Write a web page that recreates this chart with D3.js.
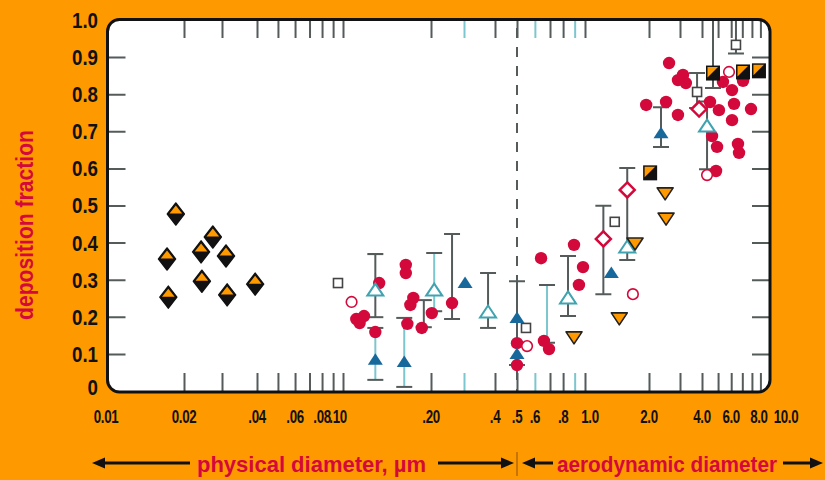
<!DOCTYPE html>
<html><head><meta charset="utf-8">
<script src="https://cdn.jsdelivr.net/npm/d3@7"></script>
<style>html,body{margin:0;padding:0;background:#ff9900;}svg{display:block}</style>
</head><body><svg id="c" width="825" height="480"></svg>
<script>
// ---------------- DATA ----------------
// [diameter (µm), deposition fraction]
const ultrafineDiamonds = [[0.0172,0.356],[0.0174,0.253],[0.0186,0.477],[0.0240,0.375],[0.0242,0.296],
  [0.0272,0.415],[0.0310,0.364],[0.0313,0.259],[0.0394,0.288]];
const redFilled = [[0.111,0.194],[0.114,0.183],[0.118,0.202],[0.133,0.291],[0.129,0.159],[0.164,0.340],
  [0.164,0.318],[0.174,0.251],[0.170,0.232],[0.166,0.181],[0.202,0.210],[0.186,0.170],[0.259,0.237],
  [0.5,0.129],[0.5,0.070],[0.639,0.358],[0.658,0.135],[0.693,0.113],[0.894,0.394],[0.980,0.334],[0.940,0.286],
  [2.60,0.884],[2.92,0.838],[3.12,0.852],[3.24,0.830],[1.94,0.771],[2.50,0.779],[2.92,0.744],[4.47,0.779],
  [5.06,0.757],[5.35,0.833],[6.07,0.811],[7.07,0.836],[6.24,0.774],[7.90,0.760],[6.07,0.730],[4.60,0.687],
  [4.93,0.658],[6.59,0.666],[6.69,0.642],[4.86,0.593]];
const redOpen = [[0.107,0.240],[0.554,0.121],[1.68,0.261],[4.29,0.582],[5.82,0.860]];
const openSquares = [[0.0948,0.291],[0.548,0.170],[1.38,0.456],[3.75,0.806],[6.41,0.933]];
const blueFilled = [[0.129,0.084],[0.162,0.078],[0.303,0.291],[0.5,0.197],[0.5,0.100],[1.33,0.318],[2.34,0.695]];
const tealOpen = [[0.129,0.272],[0.208,0.272],[0.375,0.213],[0.841,0.251],[1.58,0.388],[4.29,0.714]];
const redDiamonds = [[1.22,0.410],[1.58,0.542],[3.85,0.760]];
const orangeDown = [[0.894,0.146],[1.45,0.197],[1.72,0.399],[2.47,0.534],[2.50,0.466]];
const halfSquares = [[2.03,0.588],[4.66,0.857],[7.07,0.860],[8.82,0.863]];
// error bars: [diameter, low, high]
const errGray = [[0.129,0.199,0.369],[0.189,0.172,0.245],[0.259,0.194,0.423],[0.375,0.170,0.318],
  [0.5,0.07,0.296],[0.841,0.202,0.364],[1.22,0.261,0.499],[1.58,0.353,0.601],[2.34,0.658,0.765],
  [3.75,0.763,0.857],[4.29,0.598,0.78],[4.66,0.817,1.0],[6.41,0.91,1.0]];
const errTeal = [[0.129,0.030,0.170],[0.162,0.011,0.197],[0.208,0.215,0.372],[0.679,0.13,0.286]];
// axes
const xMinorTicks = [0.02,0.03,0.04,0.05,0.06,0.07,0.08,0.09,0.1,0.2,0.3,0.4,0.5,0.6,0.7,0.8,0.9,1,2,3,4,5,6,7,8,9];
const xLabelVals = [0.01,0.02,0.04,0.06,0.08,0.1,0.2,0.4,0.5,0.6,0.8,1,2,4,6,8,10];
const xLabelText = ["0.01","0.02",".04",".06",".08",".10",".20",".4",".5",".6",".8","1.0","2.0","4.0","6.0","8.0","10.0"];
const yTickVals = [0,0.1,0.2,0.3,0.4,0.5,0.6,0.7,0.8,0.9,1.0];
const yTickText = ["0","0.1","0.2","0.3","0.4","0.5","0.6","0.7","0.8","0.9","1.0"];
const yTitle = "deposition fraction";
const leftLabel = "physical diameter, µm";
const rightLabel = "aerodynamic diameter";

// ---------------- DRAW ----------------
const FONT = "'Liberation Sans', Arial, sans-serif";
const ORANGE = "#ff9900", RED = "#d4093b", BLUE = "#17699c", TEAL = "#3fa3b0", TEALL = "#7cc6cf", GRAY = "#555b5b";
const svg = d3.select("#c");
svg.append("rect").attr("width",825).attr("height",480).attr("fill",ORANGE);

// piecewise log scale (two different diameter scales joined at 0.5)
const xBreaks = [0.01,0.02,0.03,0.04,0.1,0.2,0.3,0.4,0.5,1,2,4,10];
const xs = d3.scaleLinear().domain(xBreaks.map(Math.log10))
  .range([106,184,222,257,343,431,464,495,517,585,649,702,768]);
const X = v => xs(Math.log10(v));
const y = d3.scaleLinear().domain([0,1]).range([391,20]);

const F = {x:107.5, y:19.5, w:662.5, h:372.5, r:12};
svg.append("defs").append("clipPath").attr("id","clip").append("rect")
  .attr("x",F.x).attr("y",F.y).attr("width",F.w).attr("height",F.h).attr("rx",F.r);
svg.append("rect").attr("x",F.x).attr("y",F.y).attr("width",F.w).attr("height",F.h).attr("rx",F.r).attr("fill","#fff");
const g = svg.append("g").attr("clip-path","url(#clip)");

const isTealTick = d => [0.3,0.6,0.9].some(v => Math.abs(Math.log10(v)-d) < 1e-6);
function styleTicks(sel){
  sel.select(".domain").remove();
  sel.selectAll(".tick line").attr("stroke", d => isTealTick(d) ? TEALL : GRAY).attr("stroke-width",2);
}
g.append("g").attr("transform",`translate(0,${y(0)})`)
  .call(d3.axisBottom(xs).tickValues(xMinorTicks.map(Math.log10)).tickSize(-18).tickFormat("")).call(styleTicks);
g.append("g").attr("transform",`translate(0,${y(1)})`)
  .call(d3.axisTop(xs).tickValues(xMinorTicks.map(Math.log10)).tickSize(-18).tickFormat("")).call(styleTicks);
const yInner = yTickVals.slice(1,-1);
g.append("g").attr("transform",`translate(${F.x},0)`)
  .call(d3.axisLeft(y).tickValues(yInner).tickSize(-18).tickFormat("")).call(s=>{s.select(".domain").remove();s.selectAll("line").attr("stroke",GRAY).attr("stroke-width",2);});
g.append("g").attr("transform",`translate(${F.x+F.w},0)`)
  .call(d3.axisRight(y).tickValues(yInner).tickSize(-18).tickFormat("")).call(s=>{s.select(".domain").remove();s.selectAll("line").attr("stroke",GRAY).attr("stroke-width",2);});

// dashed divider
g.append("line").attr("x1",X(0.5)).attr("x2",X(0.5)).attr("y1",y(1)).attr("y2",y(0))
  .attr("stroke",GRAY).attr("stroke-width",2).attr("stroke-dasharray","10,9").attr("stroke-dashoffset",-8);

// error bars
function drawErr(data, lineColor){
  const eg = g.append("g");
  data.forEach(([d,lo,hi])=>{
    const cx = X(d);
    eg.append("line").attr("x1",cx).attr("x2",cx).attr("y1",y(lo)).attr("y2",y(hi)).attr("stroke",lineColor).attr("stroke-width",2);
    [lo,hi].forEach(v=>eg.append("line").attr("x1",cx-8).attr("x2",cx+8).attr("y1",y(v)).attr("y2",y(v)).attr("stroke",GRAY).attr("stroke-width",2));
  });
}
drawErr(errTeal, TEALL);
drawErr(errGray, GRAY);

function pts(data){ return g.append("g").selectAll("g").data(data).join("g").attr("transform",d=>`translate(${X(d[0])},${y(d[1])})`); }

pts(redFilled).append("circle").attr("r",6.2).attr("fill",RED);
pts(openSquares).append("rect").attr("x",-4.5).attr("y",-4.5).attr("width",9).attr("height",9)
  .attr("fill","#fff").attr("stroke","#444").attr("stroke-width",1.6);
pts(redOpen).append("circle").attr("r",5.3).attr("fill","#fff").attr("stroke",RED).attr("stroke-width",1.6);
pts(tealOpen).append("path").attr("d","M0,-6.5L8,5.5L-8,5.5Z").attr("fill","#fff").attr("stroke",TEAL).attr("stroke-width",2);
pts(blueFilled).append("path").attr("d","M0,-6.5L7.5,5L-7.5,5Z").attr("fill",BLUE);
pts(redDiamonds).append("path").attr("d","M0,-7.5L7.5,0L0,7.5L-7.5,0Z").attr("fill","#fff").attr("stroke",RED).attr("stroke-width",2.5);
pts(orangeDown).append("path").attr("d","M-8,-5L8,-5L0,7Z").attr("fill",ORANGE).attr("stroke","#222").attr("stroke-width",1.6).attr("stroke-linejoin","round");
const hs = pts(halfSquares);
hs.append("rect").attr("x",-7).attr("y",-7.5).attr("width",14).attr("height",15).attr("fill","#111");
hs.append("path").attr("d","M-5.5,-6L5,-6L-5.5,4.5Z").attr("fill",ORANGE);
const hd = pts(ultrafineDiamonds);
hd.append("path").attr("d","M0,-11L8.5,0L0,11L-8.5,0Z").attr("fill","#111").attr("stroke","#111").attr("stroke-width",1.5).attr("stroke-linejoin","round");
hd.append("path").attr("d","M0,-8.5L6.3,-0.5L-6.3,-0.5Z").attr("fill",ORANGE);

// frame on top
svg.append("rect").attr("x",F.x).attr("y",F.y).attr("width",F.w).attr("height",F.h).attr("rx",F.r)
  .attr("fill","none").attr("stroke","#111").attr("stroke-width",3);

// x labels
const nudge = {".10":-5,"1.0":5,"8.0":7,"10.0":18};
svg.append("g").selectAll("text").data(xLabelVals).join("text")
  .attr("transform",(d,i)=>`translate(${X(d)+(nudge[xLabelText[i]]||0)},423) scale(0.74,1)`)
  .attr("text-anchor","middle").attr("font-family",FONT).attr("font-weight","bold").attr("font-size",18)
  .attr("letter-spacing",-0.5).attr("fill","#111").text((d,i)=>xLabelText[i]);

// y labels
svg.append("g").selectAll("text").data(yTickVals).join("text")
  .attr("transform",(d,i)=>`translate(98,${y(d)+ (d===0?-4:0)}) scale(0.85,1)`)
  .attr("dy","0.36em").attr("text-anchor","end").attr("font-family",FONT).attr("font-weight","bold").attr("font-size",22)
  .attr("fill","#111").text((d,i)=>yTickText[i]);

// y title
svg.append("text").attr("transform","translate(33,225) rotate(-90)").attr("text-anchor","middle")
  .attr("font-family",FONT).attr("font-weight","bold").attr("font-size",24).attr("fill",RED)
  .attr("textLength",190).attr("lengthAdjust","spacingAndGlyphs").text(yTitle);

// bottom annotations
svg.append("text").attr("x",197).attr("y",472).attr("font-family",FONT).attr("font-weight","bold").attr("font-size",22)
  .attr("fill",RED).attr("textLength",229).attr("lengthAdjust","spacingAndGlyphs").text(leftLabel);
svg.append("text").attr("x",557).attr("y",472).attr("font-family",FONT).attr("font-weight","bold").attr("font-size",22)
  .attr("fill",RED).attr("textLength",220).attr("lengthAdjust","spacingAndGlyphs").text(rightLabel);
function arrow(x1,x2,yy){
  const dir = Math.sign(x2-x1);
  svg.append("line").attr("x1",x1).attr("x2",x2-dir*8).attr("y1",yy).attr("y2",yy).attr("stroke","#111").attr("stroke-width",3);
  svg.append("path").attr("d",`M${x2},${yy}L${x2-dir*13},${yy-5.5}L${x2-dir*13},${yy+5.5}Z`).attr("fill","#111");
}
arrow(190,92,463); arrow(438,514,463); arrow(553,522,463); arrow(783,823,463);
svg.append("line").attr("x1",517).attr("x2",517).attr("y1",452).attr("y2",476).attr("stroke","#b56a00").attr("stroke-width",1.5);
</script></body></html>
